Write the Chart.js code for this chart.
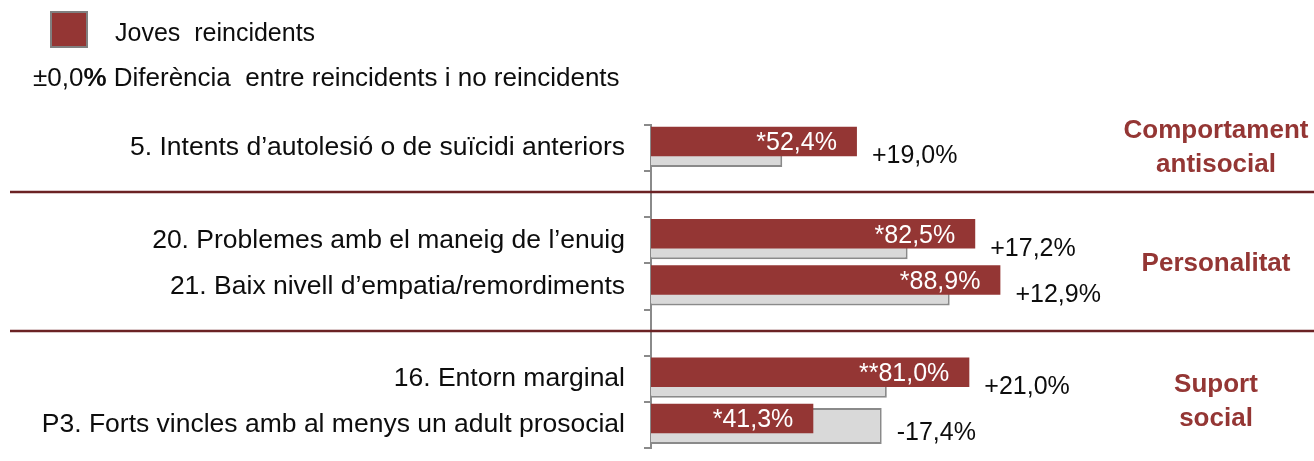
<!DOCTYPE html>
<html>
<head>
<meta charset="utf-8">
<script src="https://cdn.jsdelivr.net/npm/chart.js@4/dist/chart.umd.min.js"></script>
<style>
  body { margin: 0; background: #fff; }
  canvas { display: block; }
</style>
</head>
<body>
<canvas id="chart" width="1314" height="461"></canvas>
<script>
// ===== Data =====
const categories = [
    '5. Intents d\u2019autolesió o de suïcidi anteriors',
    '',
    '20. Problemes amb el maneig de l\u2019enuig',
    '21. Baix nivell d\u2019empatia/remordiments',
    '',
    '16. Entorn marginal',
    'P3. Forts vincles amb al menys un adult prosocial'
];
const reincidents = [52.4, null, 82.5, 88.9, null, 81.0, 41.3];
const noReincidents = [33.4, null, 65.3, 76.0, null, 60.0, 58.7];
const differences = [19.0, null, 17.2, 12.9, null, 21.0, -17.4];
const significance = ['*', '', '*', '*', '', '**', '*'];

const groupNames = [['Comportament', 'antisocial'], ['Personalitat'], ['Suport', 'social']];
const groupRows = [[0, 0], [2, 3], [5, 6]];
const separatorRows = [1, 4];

const RED = '#943634';
const GRAY_FILL = '#d9d9d9';
const GRAY_LINE = '#8a8a8a';
const DARK_RED = '#6b2224';
const FONT = "'Liberation Sans', Arial, sans-serif";

// vertical nudge of each dataset inside its row (red sits higher than gray)
const datasetShift = [-6.5, 1];

function fmt(v) {
    return v.toFixed(1).replace('.', ',');
}

/**
 * Shift each dataset up/down while it is drawn
 */
const shiftPlugin = {
    id: 'shiftBars',
    beforeDatasetDraw(chart, args) {
        chart.ctx.save();
        chart.ctx.translate(0, datasetShift[args.index] || 0);
    },
    afterDatasetDraw(chart) {
        chart.ctx.restore();
    }
};

/**
 * Legend, value labels, differences, separators and group titles
 */
const decorPlugin = {
    id: 'decor',
    afterDatasetsDraw(chart) {
        const ctx = chart.ctx;
        const redMeta = chart.getDatasetMeta(0);
        const grayMeta = chart.getDatasetMeta(1);
        ctx.save();

        // values inside the red bars
        ctx.font = '25px ' + FONT;
        ctx.fillStyle = '#ffffff';
        ctx.textAlign = 'right';
        ctx.textBaseline = 'middle';
        redMeta.data.forEach((bar, i) => {
            if (reincidents[i] == null) return;
            ctx.fillText(significance[i] + fmt(reincidents[i]) + '%', bar.x - 20, bar.y + datasetShift[0] + 2);
        });

        // difference labels
        ctx.fillStyle = '#0d0d0d';
        ctx.textAlign = 'left';
        redMeta.data.forEach((bar, i) => {
            if (differences[i] == null) return;
            const gray = grayMeta.data[i];
            const right = Math.max(bar.x, gray.x);
            const y = bar.y + datasetShift[0] + bar.height / 2;
            const sign = differences[i] > 0 ? '+' : '';
            ctx.fillText(sign + fmt(differences[i]) + '%', right + 15, y);
        });

        // separators between groups
        const yScale = chart.scales.y;
        ctx.strokeStyle = DARK_RED;
        ctx.lineWidth = 2.5;
        separatorRows.forEach(r => {
            const y = Math.round(yScale.getPixelForValue(r)) - 2;
            ctx.beginPath();
            ctx.moveTo(10, y);
            ctx.lineTo(chart.width, y);
            ctx.stroke();
        });

        // group titles
        ctx.font = 'bold 26px ' + FONT;
        ctx.fillStyle = RED;
        ctx.textAlign = 'center';
        groupNames.forEach((lines, g) => {
            const top = yScale.getPixelForValue(groupRows[g][0]);
            const bottom = yScale.getPixelForValue(groupRows[g][1]);
            const mid = (top + bottom) / 2;
            const lh = 34;
            lines.forEach((txt, k) => {
                ctx.fillText(txt, 1216, mid + (k - (lines.length - 1) / 2) * lh);
            });
        });

        // legend
        ctx.fillStyle = RED;
        ctx.fillRect(51, 12, 36, 35);
        ctx.strokeStyle = '#808080';
        ctx.lineWidth = 2;
        ctx.strokeRect(51, 12, 36, 35);

        ctx.font = '25px ' + FONT;
        ctx.fillStyle = '#0d0d0d';
        ctx.textAlign = 'left';
        ctx.fillText('Joves  reincidents', 115, 34);

        ctx.font = '26px ' + FONT;
        let x = 33;
        const part1 = '±0,0';
        ctx.fillText(part1, x, 79);
        x += ctx.measureText(part1).width;
        ctx.font = 'bold 26px ' + FONT;
        ctx.fillText('%', x, 79);
        x += ctx.measureText('%').width;
        ctx.font = '26px ' + FONT;
        ctx.fillText(' Diferència  entre reincidents i no reincidents', x, 79);

        ctx.restore();
    }
};

Chart.defaults.font.family = FONT;

new Chart(document.getElementById('chart'), {
    type: 'bar',
    data: {
        labels: categories,
        datasets: [{
            label: 'Joves reincidents',
            data: reincidents,
            backgroundColor: RED,
            borderWidth: 0,
            barPercentage: 0.64,
            categoryPercentage: 1,
            grouped: false
        }, {
            label: 'Joves no reincidents',
            data: noReincidents,
            backgroundColor: GRAY_FILL,
            borderColor: GRAY_LINE,
            borderWidth: 2,
            barPercentage: 0.78,
            categoryPercentage: 1,
            grouped: false
        }]
    },
    options: {
        indexAxis: 'y',
        responsive: false,
        animation: false,
        devicePixelRatio: 1,
        layout: {
            padding: { top: 125, right: 270, bottom: 13, left: 0 }
        },
        plugins: {
            legend: { display: false },
            tooltip: { enabled: false }
        },
        scales: {
            x: {
                display: false,
                min: 0,
                max: 100
            },
            y: {
                afterFit(scale) {
                    scale.width = 651;
                    scale.paddingTop = 0;
                    scale.paddingBottom = 0;
                },
                border: { color: GRAY_LINE, width: 2 },
                grid: {
                    offset: true,
                    drawOnChartArea: false,
                    drawTicks: true,
                    tickLength: 7,
                    color: GRAY_LINE,
                    lineWidth: 2
                },
                ticks: {
                    autoSkip: false,
                    padding: 19,
                    color: '#0d0d0d',
                    font: { size: 26.5 }
                }
            }
        }
    },
    plugins: [shiftPlugin, decorPlugin]
});
</script>
</body>
</html>
